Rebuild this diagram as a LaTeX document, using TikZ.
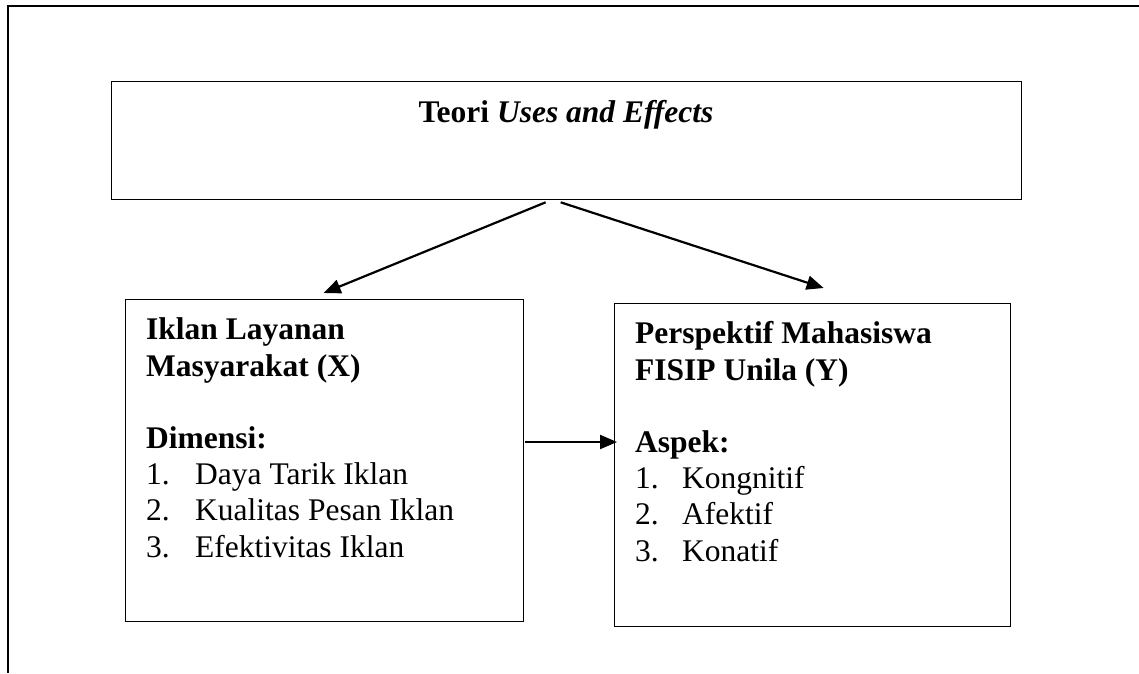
\documentclass[tikz,border=0pt]{standalone}
\usepackage{fontspec}
\setmainfont{Liberation Serif}
\usetikzlibrary{arrows.meta}
\begin{document}
\begin{tikzpicture}[x=1pt,y=-1pt,
  box/.style={draw, line width=1.3pt, inner sep=0pt, anchor=north west},
  txt/.style={anchor=base west, inner sep=0pt, align=left, font=\fontsize{31.5}{36.2}\selectfont},
  arr/.style={line width=2.2pt, -{Triangle[length=17pt,width=14pt]}}]
\useasboundingbox (0,0) rectangle (1139,673);
% outer frame
\draw[line width=2.6pt] (1139,6) -- (8,6) -- (8,673);
% boxes
\node[box, minimum width=910pt, minimum height=118pt] (tbox) at (111,81) {};
\node[box, minimum width=398pt, minimum height=322pt] (lbox) at (125,299) {};
\node[box, minimum width=396pt, minimum height=323pt] (rbox) at (614,303) {};
% texts
\node[anchor=base, inner sep=0pt, font=\fontsize{31.5}{36.2}\selectfont] (ttl) at (566,122) {\textbf{Teori \textit{Uses and Effects}}};
\node[txt] (ltxt) at (146,557) {\textbf{Iklan Layanan}\\ \textbf{Masyarakat (X)}\\[36.2pt]
  \textbf{Dimensi:}\\ \makebox[49pt][l]{1.}Daya Tarik Iklan\\ \makebox[49pt][l]{2.}Kualitas Pesan Iklan\\ \makebox[49pt][l]{3.}Efektivitas Iklan};
\node[txt] (rtxt) at (635,561) {\textbf{Perspektif Mahasiswa}\\ \textbf{FISIP Unila (Y)}\\[36.2pt]
  \textbf{Aspek:}\\ \makebox[47pt][l]{1.}Kongnitif\\ \makebox[47pt][l]{2.}Afektif\\ \makebox[47pt][l]{3.}Konatif};
% connectors
\coordinate (mid) at (0,442);
\draw[arr] ([xshift=-21pt,yshift=-2pt]tbox.south) -- ([xshift=-1pt,yshift=6pt]lbox.north);
\draw[arr] ([xshift=-6pt,yshift=-2pt]tbox.south) -- ([xshift=11pt,yshift=15pt]rbox.north);
\draw[arr] ([xshift=1pt]lbox.east |- mid) -- ([xshift=3pt]rbox.west |- mid);
\end{tikzpicture}
\end{document}
